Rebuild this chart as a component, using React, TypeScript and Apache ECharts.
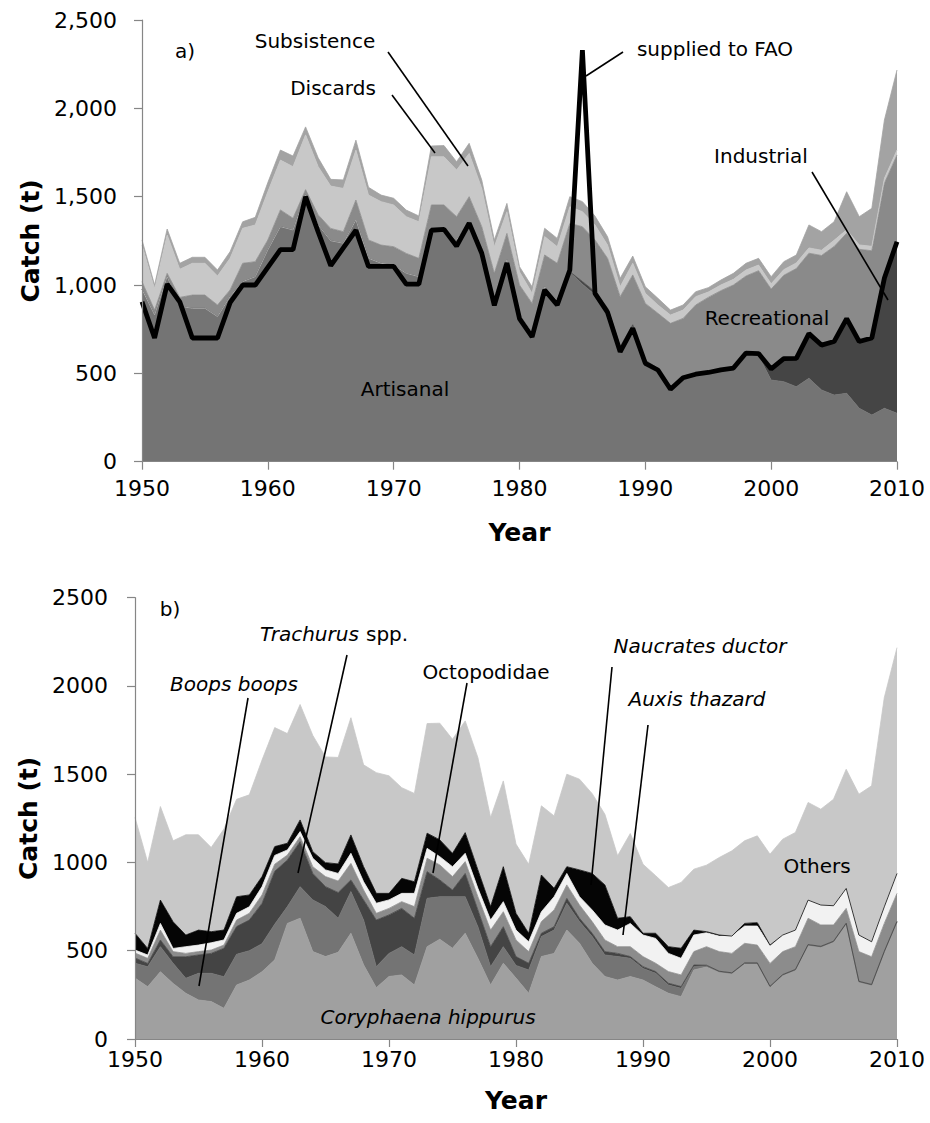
import React, { useEffect, useRef } from 'react';
import * as echarts from 'echarts';

const FONT = 'DejaVu Sans';
const START_YEAR = 1950;
const years: string[] = Array.from({ length: 61 }, (_, i) => String(START_YEAR + i));
const yTicksA = [0, 500, 1000, 1500, 2000, 2500];

// Panel a) catch by sector (t)
const artisanal = [975, 830, 1047, 880, 868, 868, 821, 934, 1019, 1047, 1198, 1330, 1311, 1510, 1340, 1250, 1236, 1368, 1151, 1123, 1113, 1066, 1047, 1321, 1321, 1255, 1358, 1208, 925, 1142, 830, 730, 990, 915, 1075, 1005, 945, 855, 640, 765, 565, 520, 415, 470, 490, 505, 515, 535, 610, 600, 462, 453, 424, 472, 406, 377, 387, 302, 264, 302, 274];
const industrial = [0, 0, 0, 0, 0, 0, 0, 0, 0, 0, 0, 0, 0, 0, 0, 0, 0, 0, 0, 0, 0, 0, 0, 0, 0, 0, 0, 0, 0, 0, 0, 0, 0, 0, 0, 15, 17, 15, 12, 10, 10, 8, 10, 8, 5, 0, 0, 0, 0, 15, 63, 130, 161, 253, 254, 303, 423, 378, 436, 738, 971];
const recreational = [44, 28, 19, 50, 75, 75, 66, 38, 104, 85, 57, 95, 67, 30, 57, 70, 66, 113, 104, 103, 104, 113, 104, 132, 132, 132, 142, 122, 141, 150, 170, 166, 180, 208, 274, 310, 293, 281, 282, 282, 321, 312, 358, 333, 392, 425, 453, 465, 441, 466, 452, 472, 508, 455, 507, 538, 483, 522, 494, 536, 491];
const subsistence = [207, 123, 217, 159, 180, 180, 164, 179, 198, 208, 273, 282, 292, 310, 273, 240, 245, 283, 254, 246, 236, 208, 207, 273, 273, 264, 245, 217, 151, 123, 75, 57, 104, 94, 94, 85, 85, 75, 56, 66, 57, 47, 47, 47, 47, 30, 32, 32, 34, 32, 30, 32, 32, 30, 30, 35, 20, 25, 25, 28, 28];
const discards = [29, 19, 34, 34, 34, 34, 34, 38, 37, 43, 52, 57, 60, 45, 50, 38, 48, 56, 44, 37, 38, 37, 33, 61, 63, 47, 57, 47, 38, 47, 29, 37, 47, 47, 57, 57, 50, 47, 48, 41, 37, 38, 28, 29, 28, 25, 28, 34, 38, 38, 40, 45, 45, 130, 105, 105, 215, 160, 215, 330, 453];
const suppliedToFAO = [905, 700, 1005, 905, 700, 700, 700, 900, 1000, 1000, 1100, 1200, 1200, 1500, 1300, 1110, 1210, 1310, 1105, 1105, 1105, 1005, 1005, 1310, 1315, 1220, 1350, 1180, 885, 1125, 810, 707, 972, 887, 1085, 2330, 953, 845, 622, 755, 557, 519, 410, 475, 495, 505, 520, 530, 615, 612, 525, 583, 585, 725, 660, 680, 810, 680, 700, 1040, 1245];

// Panel b) catch by taxon (t)
const coryphaena = [345, 296, 381, 315, 259, 221, 212, 174, 306, 334, 381, 448, 655, 684, 495, 467, 491, 599, 420, 291, 354, 363, 306, 523, 565, 514, 599, 457, 306, 429, 345, 259, 467, 485, 617, 542, 429, 354, 334, 354, 334, 296, 259, 240, 391, 408, 378, 369, 425, 425, 293, 359, 388, 529, 519, 548, 650, 321, 303, 491, 661];
const boops = [84, 113, 142, 114, 85, 151, 160, 179, 174, 166, 159, 202, 95, 179, 293, 283, 193, 236, 254, 119, 131, 160, 170, 274, 241, 292, 207, 179, 104, 94, 72, 132, 113, 132, 152, 123, 151, 122, 133, 103, 66, 76, 47, 47, 19, 5, 3, 3, 3, 3, 3, 3, 3, 3, 3, 3, 3, 3, 3, 3, 3];
const trachurus = [30, 19, 38, 37, 122, 104, 113, 161, 157, 174, 228, 300, 264, 255, 150, 113, 146, 66, 114, 264, 218, 217, 208, 151, 95, 38, 132, 95, 113, 113, 50, 38, 19, 19, 28, 19, 19, 19, 18, 10, 10, 10, 10, 10, 9, 5, 3, 3, 3, 3, 3, 3, 3, 3, 3, 3, 3, 3, 3, 3, 3];
const octopodidae = [28, 29, 56, 29, 19, 19, 19, 18, 37, 38, 48, 40, 28, 28, 38, 57, 65, 94, 56, 38, 37, 38, 66, 76, 85, 76, 67, 75, 94, 85, 94, 66, 66, 95, 76, 75, 66, 66, 38, 56, 57, 47, 66, 66, 76, 105, 111, 110, 111, 101, 129, 130, 129, 149, 121, 92, 84, 168, 157, 158, 158];
const auxis = [17, 19, 38, 18, 38, 37, 41, 29, 38, 37, 47, 50, 29, 29, 48, 38, 43, 57, 47, 57, 48, 47, 75, 56, 47, 56, 47, 48, 57, 57, 56, 56, 56, 75, 65, 47, 66, 85, 94, 132, 122, 141, 103, 94, 94, 79, 88, 98, 98, 108, 99, 94, 94, 103, 113, 109, 113, 94, 85, 94, 113];
const naucrates = [95, 37, 132, 151, 66, 85, 63, 56, 94, 67, 57, 50, 38, 66, 37, 41, 54, 104, 85, 56, 37, 85, 66, 86, 95, 76, 117, 104, 76, 198, 95, 48, 208, 48, 38, 152, 207, 227, 67, 38, 10, 29, 38, 57, 28, 6, 6, 0, 15, 19, 5, 0, 0, 0, 0, 0, 0, 0, 0, 0, 0];
const others = [656, 487, 530, 459, 568, 540, 477, 572, 552, 567, 660, 674, 621, 654, 659, 599, 603, 664, 577, 684, 666, 514, 500, 621, 661, 646, 633, 636, 505, 486, 392, 391, 392, 410, 524, 514, 452, 400, 354, 471, 391, 326, 335, 373, 345, 377, 439, 483, 468, 492, 515, 543, 553, 553, 543, 603, 675, 798, 883, 1185, 1279];

const AXIS_GRAY = '#868686';
// years (index) over which the artisanal top shows a thin light edge
const EDGE_LAST_INDEX = 34;

function area(name: string, data: number[], color: string, stack: string, idx: number) {
  return {
    name,
    type: 'line',
    stack,
    data,
    xAxisIndex: idx,
    yAxisIndex: idx,
    symbol: 'none',
    silent: true,
    lineStyle: { width: 0.8, color },
    itemStyle: { color },
    areaStyle: { color, opacity: 1 },
    z: 2,
  };
}

function xAxis(idx: number, margin: number, nameGap: number) {
  return {
    type: 'category',
    gridIndex: idx,
    data: years,
    boundaryGap: false,
    z: 5,
    axisLine: { show: true, lineStyle: { color: AXIS_GRAY, width: 1.2 } },
    axisTick: { show: true, interval: (i: number) => i % 10 === 0, length: 8, lineStyle: { color: AXIS_GRAY, width: 1.2 } },
    axisLabel: { interval: (i: number) => i % 10 === 0, margin, fontSize: 22, color: '#000', fontFamily: FONT },
    splitLine: { show: false },
    name: 'Year',
    nameLocation: 'middle',
    nameGap,
    nameTextStyle: { fontSize: 25, fontWeight: 'bold', color: '#000', fontFamily: FONT },
  };
}

function yAxis(idx: number, commas: boolean, margin: number, nameGap: number) {
  return {
    type: 'value',
    gridIndex: idx,
    min: yTicksA[0],
    max: yTicksA[yTicksA.length - 1],
    interval: 500,
    z: 5,
    axisLine: { show: true, lineStyle: { color: AXIS_GRAY, width: 1.2 } },
    axisTick: { show: true, length: 8, lineStyle: { color: AXIS_GRAY, width: 1.2 } },
    axisLabel: {
      margin,
      fontSize: 22,
      color: '#000',
      fontFamily: FONT,
      formatter: (v: number) => (commas ? v.toLocaleString('en-US') : String(v)),
    },
    splitLine: { show: false },
    name: 'Catch (t)',
    nameLocation: 'middle',
    nameGap,
    nameRotate: 90,
    nameTextStyle: { fontSize: 25, fontWeight: 'bold', color: '#000', fontFamily: FONT },
  };
}

function label(text: string, x: number, y: number, italic = false, align = 'center') {
  return {
    type: 'text',
    x,
    y,
    z: 100,
    silent: true,
    style: {
      text,
      fill: '#000',
      fontSize: 20,
      fontFamily: FONT,
      fontStyle: italic ? 'italic' : 'normal',
      textAlign: align,
      align,
      textVerticalAlign: 'middle',
      verticalAlign: 'middle',
    },
  };
}

function leader(x1: number, y1: number, x2: number, y2: number) {
  return {
    type: 'line',
    z: 100,
    silent: true,
    shape: { x1, y1, x2, y2 },
    style: { stroke: '#000', lineWidth: 1.6 },
  };
}

export default function App() {
  const ref = useRef<HTMLDivElement>(null);
  useEffect(() => {
    if (!ref.current) return;
    const chart = echarts.init(ref.current, null, { renderer: 'svg' });
    const artisanalEdge = artisanal.map((v, i) => (i <= EDGE_LAST_INDEX ? v : '-'));
    const option = {
      animation: false,
      backgroundColor: '#fff',
      textStyle: { fontFamily: FONT },
      grid: [
        { left: 142, right: 33, top: 20, height: 441.7 },
        { left: 135, right: 33, top: 597.7, height: 441.3 },
      ],
      xAxis: [xAxis(0, 16, 58), xAxis(1, 9, 49)],
      yAxis: [yAxis(0, true, 25, 95), yAxis(1, false, 27, 88)],
      series: [
        area('Artisanal', artisanal, '#747474', 'a', 0),
        area('Industrial', industrial, '#454545', 'a', 0),
        area('Recreational', recreational, '#8a8a8a', 'a', 0),
        area('Subsistence', subsistence, '#c8c8c8', 'a', 0),
        area('Discards', discards, '#a3a3a3', 'a', 0),
        {
          name: 'Artisanal edge',
          type: 'line',
          data: artisanalEdge,
          xAxisIndex: 0,
          yAxisIndex: 0,
          symbol: 'none',
          silent: true,
          z: 3,
          lineStyle: { color: '#a8a8a8', width: 1 },
        },
        {
          name: 'supplied to FAO',
          type: 'line',
          data: suppliedToFAO,
          xAxisIndex: 0,
          yAxisIndex: 0,
          symbol: 'none',
          silent: true,
          z: 4,
          lineStyle: { color: '#000', width: 4.8 },
        },
        area('Coryphaena hippurus', coryphaena, '#a0a0a0', 'b', 1),
        area('Boops boops', boops, '#747474', 'b', 1),
        area('Trachurus spp.', trachurus, '#444444', 'b', 1),
        area('Octopodidae', octopodidae, '#8c8c8c', 'b', 1),
        area('Auxis thazard', auxis, '#f2f2f2', 'b', 1),
        area('Naucrates ductor', naucrates, '#050505', 'b', 1),
        area('Others', others, '#c8c8c8', 'b', 1),
      ],
      graphic: [
        label('a)', 185, 51),
        label('Subsistence', 315, 41),
        label('Discards', 333, 88),
        label('supplied to FAO', 715, 49),
        label('Industrial', 761, 156),
        label('Recreational', 767, 318),
        label('Artisanal', 405, 389),
        leader(392, 95, 435, 153),
        leader(388, 52, 468, 166),
        leader(623, 52, 586, 76),
        leader(812, 172, 888, 300),
        label('b)', 170, 609),
        label('Trachurus', 260, 634, true, 'left'),
        label('spp.', 366, 634, false, 'left'),
        label('Boops boops', 234, 684, true),
        label('Octopodidae', 486, 672),
        label('Naucrates ductor', 700, 646, true),
        label('Auxis thazard', 697, 699, true),
        label('Others', 817, 866),
        label('Coryphaena hippurus', 428, 1017, true),
        leader(347, 655, 298, 873),
        leader(248, 698, 199, 986),
        leader(467, 683, 433, 873),
        leader(612, 667, 591, 885),
        leader(648, 725, 623, 935),
      ],
    };
    chart.setOption(option as any);
    return () => chart.dispose();
  }, []);
  return (
    <div
      ref={ref}
      style={{ position: 'fixed', left: 0, top: 0, width: 930, height: 1123, background: '#fff' }}
    />
  );
}
